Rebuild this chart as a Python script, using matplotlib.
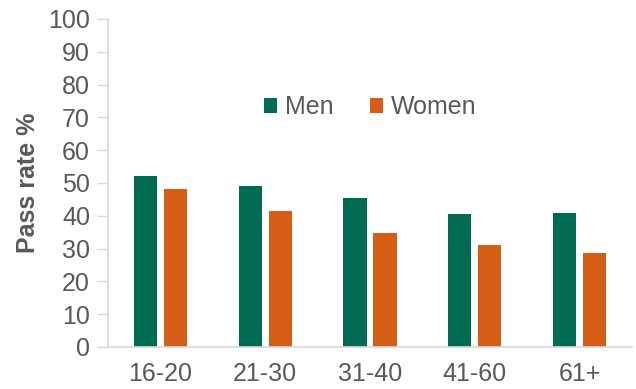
import matplotlib
matplotlib.use("Agg")
import matplotlib.pyplot as plt
import numpy as np

categories = ["16-20", "21-30", "31-40", "41-60", "61+"]
men = [52.2, 49.1, 45.3, 40.5, 41.0]
women = [48.2, 41.5, 34.8, 31.0, 28.6]
yticks = [0, 10, 20, 30, 40, 50, 60, 70, 80, 90, 100]

plt.rcParams['font.family'] = ['Liberation Sans', 'DejaVu Sans']
text_color = '#595959'
green = '#006A52'
orange = '#D55E17'
fs = 18

fig = plt.figure(figsize=(6.36, 3.89), dpi=100)
ax = fig.add_axes([108/636, 42/389, 524/636, 328/389])

x = np.arange(len(categories))
w = 0.222
off = 0.143
ax.bar(x - off, men, width=w, color=green, label='Men')
ax.bar(x + off, women, width=w, color=orange, label='Women')

ax.set_xlim(-0.5, len(categories) - 0.5)
ax.set_ylim(0, 100)
ax.set_yticks(yticks)
ax.set_xticks(x)
ax.set_xticklabels(categories)

for s in ['top', 'right']:
    ax.spines[s].set_visible(False)
for s in ['left', 'bottom']:
    ax.spines[s].set_color('#d9d9d9')
    ax.spines[s].set_linewidth(1.2)

ax.tick_params(axis='y', colors='#d9d9d9', length=8, width=1.0, labelcolor=text_color, labelsize=fs, pad=5)
ax.tick_params(axis='x', length=0, labelcolor=text_color, labelsize=fs, pad=11)

ax.set_ylabel('Pass rate %', fontsize=fs, fontweight='bold', color=text_color, labelpad=6)

leg = ax.legend(loc='center', bbox_to_anchor=(0.500, 0.732), ncol=2, frameon=False,
                fontsize=fs, handlelength=0.55, handleheight=0.55, handletextpad=0.3,
                columnspacing=1.45, labelcolor=text_color)

fig.savefig('out.png', dpi=100)
